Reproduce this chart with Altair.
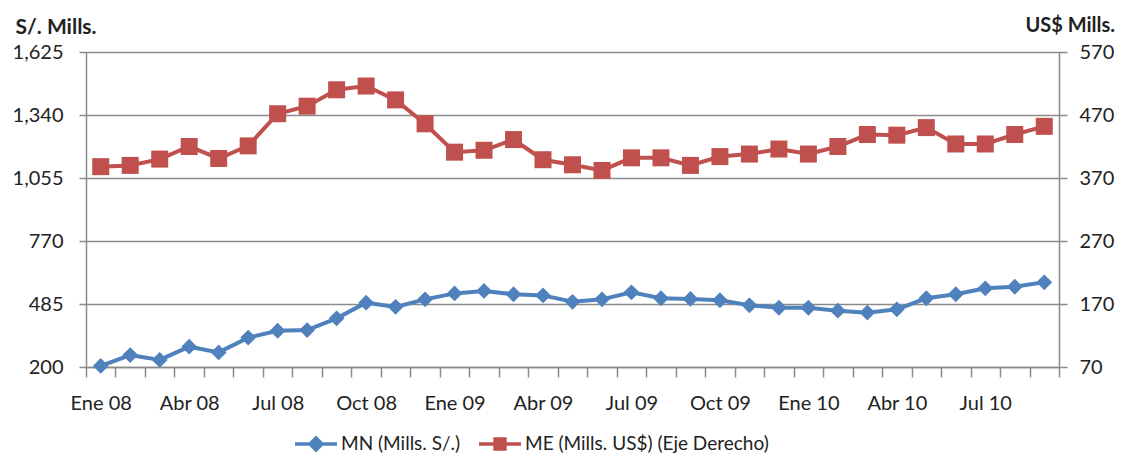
import altair as alt
import pandas as pd

months = ["Ene 08", "Feb 08", "Mar 08", "Abr 08", "May 08", "Jun 08", "Jul 08", "Ago 08",
          "Sep 08", "Oct 08", "Nov 08", "Dic 08",
          "Ene 09", "Feb 09", "Mar 09", "Abr 09", "May 09", "Jun 09", "Jul 09", "Ago 09",
          "Sep 09", "Oct 09", "Nov 09", "Dic 09",
          "Ene 10", "Feb 10", "Mar 10", "Abr 10", "May 10", "Jun 10", "Jul 10", "Ago 10",
          "Sep 10"]
mn = [205, 254, 232, 292, 266, 333, 364, 367, 420, 491, 472, 506,
      533, 544, 529, 524, 495, 506, 538, 511, 508, 502, 479, 468,
      468, 455, 446, 461, 511, 529, 556, 563, 583]
me = [388, 390, 400, 420, 401, 421, 472, 484, 510, 516, 494, 456,
      411, 414, 431, 399, 391, 382, 402, 402, 390, 404, 408, 416,
      408, 420, 439, 438, 450, 424, 424, 439, 452]
series = ["MN (Mills. S/.)", "ME (Mills. US$) (Eje Derecho)"]
left_ticks = [200, 485, 770, 1055, 1340, 1625]
right_ticks = [70, 170, 270, 370, 470, 570]

BLUE = "#4F81BD"
RED = "#C0504D"
GRID = "#8A8A8A"
TXT = "#222222"
FONT = "Lato"

df = pd.DataFrame({"mes": months, "MN": mn, "ME": me})

x_enc = alt.X(
    "mes:N", sort=months, bandPosition=0.5,
    scale=alt.Scale(type="band", paddingInner=0, paddingOuter=0),
    axis=alt.Axis(
        title=None, tickBand="extent", labelAngle=0, labelOverlap=False,
        labelExpr="test(/^(Ene|Abr|Jul|Oct)/, datum.label) ? datum.label : ''",
        tickSize=10, tickColor=GRID, tickWidth=1.5, domainColor=GRID, domainWidth=1.5,
        labelPadding=16, labelFontSize=20, labelColor=TXT, labelFont=FONT,
        grid=False,
    ),
)

left_axis = alt.Axis(
    values=left_ticks, labelExpr="format(datum.value, ',.0f')", grid=True,
    gridColor=GRID, gridWidth=1.5,
    tickSize=7, tickColor=GRID, tickWidth=1.5, domainColor=GRID, domainWidth=1.5,
    labelPadding=16, labelFontSize=20, labelColor=TXT, labelFont=FONT,
    title="S/. Mills.", titleAngle=0, titleX=-71, titleY=-25, titleAlign="left",
    titleBaseline="middle", titleFontWeight="bold", titleFontSize=21, titleFont=FONT,
    titleColor=TXT,
)
right_axis = alt.Axis(
    orient="right", values=right_ticks, labelExpr="format(datum.value, ',.0f')", grid=False,
    tickSize=8, tickColor=GRID, tickWidth=1.5, domainColor=GRID, domainWidth=1.5,
    labelPadding=12, labelFontSize=20, labelColor=TXT, labelFont=FONT,
    title="US$ Mills.", titleAngle=0, titleX=-34, titleY=-27, titleAlign="left",
    titleBaseline="middle", titleFontWeight="bold", titleFontSize=20, titleFont=FONT,
    titleColor=TXT,
)

y_mn = alt.Y("MN:Q", scale=alt.Scale(domain=[200, 1625], nice=False, zero=False), axis=left_axis)
y_me = alt.Y("ME:Q", scale=alt.Scale(domain=[70, 570], nice=False, zero=False), axis=right_axis)

base = alt.Chart(df)
mn_line = base.mark_line(color=BLUE, strokeWidth=4).encode(x=x_enc, y=y_mn)
mn_pts = base.mark_point(shape="diamond", filled=True, size=250, color=BLUE, opacity=1).encode(x=x_enc, y=y_mn)
me_line = base.mark_line(color=RED, strokeWidth=4).encode(x=x_enc, y=y_me)
me_pts = base.mark_point(shape="square", filled=True, size=289, color=RED, opacity=1).encode(x=x_enc, y=y_me)

path_mn = "M-1,-0.08H1V0.08H-1Z M0,-0.4L0.4,0L0,0.4L-0.4,0Z"
path_me = "M-1,-0.08H1V0.08H-1Z M-0.32,-0.32H0.32V0.32H-0.32Z"

legend_obj = alt.Legend(
    title=None, orient="none", legendX=209, legendY=371, direction="horizontal",
    symbolSize=1764, symbolStrokeWidth=0, symbolOpacity=1,
    labelFont=FONT, labelFontSize=19, labelColor=TXT, labelOffset=4,
    columnPadding=18, padding=0, labelLimit=400,
)
leg = alt.Chart(pd.DataFrame({"serie": series})).mark_point(
    filled=True, opacity=1, size=1764
).encode(
    color=alt.Color("serie:N", scale=alt.Scale(domain=series, range=[BLUE, RED]), legend=legend_obj),
    shape=alt.Shape("serie:N", scale=alt.Scale(domain=series, range=[path_mn, path_me]), legend=legend_obj),
).transform_filter("false")

chart = alt.layer(
    alt.layer(mn_line, mn_pts),
    alt.layer(me_line, me_pts),
    leg,
).resolve_scale(y="independent").properties(
    width=973, height=315,
    autosize=alt.AutoSizeParams(type="none"),
    padding={"left": 78, "top": 44, "right": 56, "bottom": 91},
).configure_view(stroke=None).configure(font=FONT, background="white")

chart.save("out.html", embed_options={"renderer": "svg", "actions": False})
